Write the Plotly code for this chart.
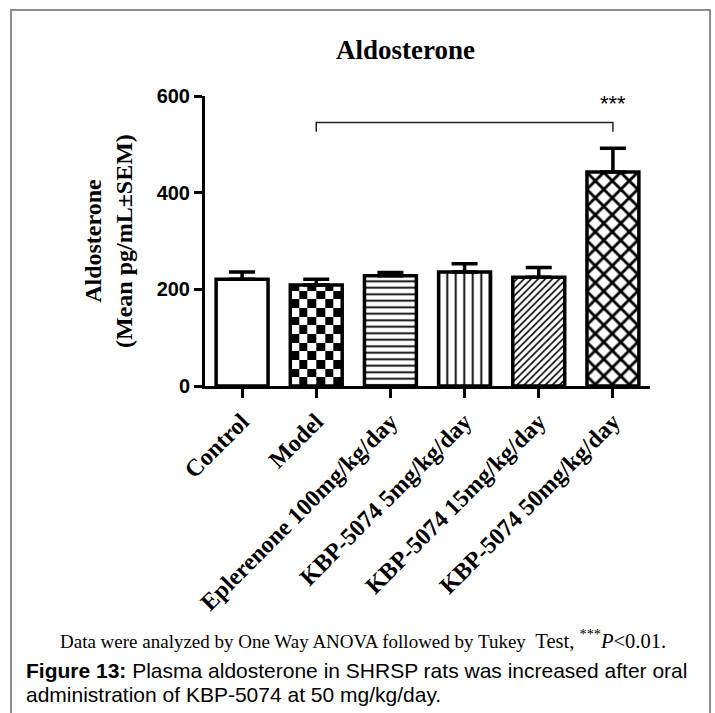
import plotly.graph_objects as go

# ---- data -------------------------------------------------------------
groups = ["Control", "Model", "Eplerenone 100mg/kg/day", "KBP-5074 5mg/kg/day",
          "KBP-5074 15mg/kg/day", "KBP-5074 50mg/kg/day"]
mean_pg_ml = [221, 209, 228, 236, 225, 443]
sem_pg_ml = [15, 12, 7, 17, 20, 49]
y_ticks = [0, 200, 400, 600]

# comparison bracket (Model vs KBP-5074 50mg/kg/day)
bracket_from, bracket_to = 1, 5
bracket_top, bracket_foot = 545, 526
star_level = 585
star_text = "***"

# ---- geometry ---------------------------------------------------------
W, H = 715, 713
ML, MR, MT, MB = 205, 65, 96, 327
PW, PH = W - ML - MR, H - MT - MB
BAR_W = 0.7
Y_MAX = 600


def px_x(p):
    return (p - ML) / PW


def px_y(p):
    return (H - MB - p) / PH


SERIF = "Liberation Serif"
SANS = "Liberation Sans"

xs = list(range(len(groups)))

# fill pattern per group: (shape, tile size, solidity)
patterns = [
    ("", 8, 0.3),       # Control: plain white
    ("", 8, 0.3),       # Model: checkerboard (heatmap underneath)
    ("-", 6.5, 0.28),   # Eplerenone: horizontal lines
    ("|", 8.5, 0.22),   # KBP 5: vertical lines
    ("/", 5, 0.32),     # KBP 15: dense diagonal hatch
    ("x", 12, 0.42),    # KBP 50: diamond crosshatch
]
CHECKER = 1

fig = go.Figure()

# checkerboard fill for the Model bar, built as a black/white brick heatmap
n_cols = 6
x0 = xs[CHECKER] - BAR_W / 2
cell_w = BAR_W / n_cols
x_edges = [x0 + k * cell_w for k in range(n_cols + 1)]
cell_px = cell_w * PW / len(groups)
cell_h = cell_px * Y_MAX / PH
y_edges = [0.0]
while y_edges[-1] + cell_h < mean_pg_ml[CHECKER]:
    y_edges.append(y_edges[-1] + cell_h)
y_edges.append(mean_pg_ml[CHECKER])
z = [[(r + c) % 2 for c in range(n_cols)] for r in range(len(y_edges) - 1)]
fig.add_trace(go.Heatmap(
    x=x_edges, y=y_edges, z=z, zmin=0, zmax=1,
    colorscale=[[0, "white"], [1, "black"]], showscale=False, hoverinfo="skip",
))

for i, (shape, size, solidity) in enumerate(patterns):
    marker = dict(color="rgba(0,0,0,0)" if i == CHECKER else "white",
                  line=dict(color="black", width=3.5))
    if shape:
        marker["pattern"] = dict(shape=shape, size=size, solidity=solidity,
                                 fgcolor="black", bgcolor="white",
                                 fillmode="replace")
    fig.add_trace(go.Bar(
        x=[xs[i]], y=[mean_pg_ml[i]], width=BAR_W, marker=marker,
        error_y=dict(type="data", array=[sem_pg_ml[i]], arrayminus=[0],
                     symmetric=False, color="black", thickness=3.5, width=13),
        hoverinfo="skip",
    ))

fig.update_layout(
    width=W, height=H,
    margin=dict(l=ML, r=MR, t=MT, b=MB),
    paper_bgcolor="white", plot_bgcolor="white",
    showlegend=False,
    barmode="overlay",
)

fig.update_xaxes(
    range=[-0.5, len(groups) - 0.5],
    tickmode="array", tickvals=xs, ticktext=groups,
    tickangle=-45,
    tickfont=dict(family=SERIF, size=24, color="black", weight="bold"),
    showline=True, linecolor="black", linewidth=3,
    ticks="outside", ticklen=9, tickwidth=3, tickcolor="black",
    showgrid=False, zeroline=False,
)
fig.update_yaxes(
    range=[0, Y_MAX],
    tickmode="array", tickvals=y_ticks, ticktext=[str(v) for v in y_ticks],
    tickfont=dict(family=SANS, size=20, color="black", weight="bold"),
    showline=True, linecolor="black", linewidth=3,
    ticks="outside", ticklen=8, tickwidth=3, tickcolor="black",
    showgrid=False, zeroline=False,
)

# significance bracket
path = (f"M {bracket_from},{bracket_foot} L {bracket_from},{bracket_top} "
        f"L {bracket_to},{bracket_top} L {bracket_to},{bracket_foot}")
shapes = [dict(type="path", xref="x", yref="y", path=path,
               line=dict(color="#222222", width=1.5))]

# outer figure frame (open at the bottom)
fx0, fx1, fy0, fy1 = px_x(11), px_x(710), px_y(10), px_y(713)
shapes.append(dict(type="path", xref="paper", yref="paper",
                   path=f"M {fx0},{fy1} L {fx0},{fy0} L {fx1},{fy0} L {fx1},{fy1}",
                   line=dict(color="#8c8c8c", width=2)))
fig.update_layout(shapes=shapes)

ann = []
ann.append(dict(x=bracket_to, y=star_level, xref="x", yref="y", text=star_text,
                showarrow=False, font=dict(family=SANS, size=22, color="black"),
                xanchor="center", yanchor="middle"))
ann.append(dict(x=px_x(405), y=px_y(50), xref="paper", yref="paper",
                text="Aldosterone", showarrow=False,
                font=dict(family=SERIF, size=27, color="black", weight="bold"),
                xanchor="center", yanchor="middle"))
ann.append(dict(x=px_x(108), y=px_y(241), xref="paper", yref="paper",
                text="Aldosterone<br>(Mean pg/mL±SEM)", textangle=-90,
                showarrow=False,
                font=dict(family=SERIF, size=24, color="black", weight="bold"),
                xanchor="center", yanchor="middle"))
ann.append(dict(x=px_x(363), y=px_y(639), xref="paper", yref="paper",
                text=("Data were analyzed by One Way ANOVA followed by Tukey&nbsp; "
                      "<span style='font-size:20.5px'>Test, <sup>***</sup><i>P</i>&lt;0.01.</span>"),
                showarrow=False, font=dict(family=SERIF, size=19, color="black"),
                xanchor="center", yanchor="middle"))
ann.append(dict(x=px_x(24), y=px_y(670), xref="paper", yref="paper",
                text="<b>Figure 13:</b> Plasma aldosterone in SHRSP rats was increased after oral",
                showarrow=False, font=dict(family=SANS, size=21, color="black"),
                xanchor="left", yanchor="middle"))
ann.append(dict(x=px_x(24), y=px_y(695), xref="paper", yref="paper",
                text="administration of KBP-5074 at 50 mg/kg/day.",
                showarrow=False, font=dict(family=SANS, size=21, color="black"),
                xanchor="left", yanchor="middle"))
fig.update_layout(annotations=ann)

fig.write_html("out.html")
